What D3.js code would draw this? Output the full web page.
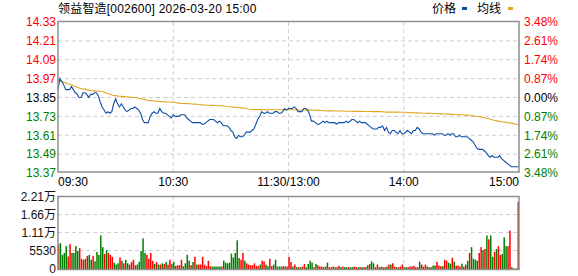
<!DOCTYPE html>
<html>
<head>
<meta charset="utf-8">
<script src="https://cdn.jsdelivr.net/npm/d3@7"></script>
<style>
  body { margin: 0; background: #fff; }
  svg { display: block; font-family: "Liberation Sans", "Noto Sans CJK SC", sans-serif; }
</style>
</head>
<body>
<script>
const title = "领益智造[002600] 2026-03-20 15:00";
const prevClose = 13.85;

const priceTicks = [14.33, 14.21, 14.09, 13.97, 13.85, 13.73, 13.61, 13.49, 13.37];
const pctLabels = ["3.48%", "2.61%", "1.74%", "0.87%", "0.00%", "0.87%", "1.74%", "2.61%", "3.48%"];
const volTicks = [0, 5530, 11060, 16590, 22120];
const volLabels = ["0", "5530", "1.11万", "1.66万", "2.21万"];
const timeTicks = [0, 60, 120, 180, 240];
const timeLabels = ["09:30", "10:30", "11:30/13:00", "14:00", "15:00"];

// one value per minute, 09:30-11:30 then 13:01-15:00
const prices = [
  13.90,13.97,13.95,13.93,13.90,13.90,13.90,13.92,13.90,13.88,
  13.87,13.85,13.85,13.88,13.88,13.87,13.85,13.87,13.87,13.88,
  13.88,13.86,13.82,13.79,13.77,13.75,13.76,13.75,13.76,13.81,
  13.84,13.81,13.79,13.81,13.79,13.77,13.76,13.77,13.78,13.78,
  13.79,13.78,13.77,13.75,13.71,13.69,13.69,13.69,13.73,13.75,
  13.76,13.75,13.75,13.78,13.76,13.75,13.75,13.74,13.73,13.72,
  13.74,
  13.73,13.73,13.73,13.74,13.74,13.74,13.72,13.71,13.70,13.69,
  13.69,13.69,13.69,13.69,13.68,13.68,13.69,13.70,13.71,13.71,
  13.71,13.70,13.69,13.70,13.69,13.67,13.67,13.67,13.66,13.64,
  13.63,13.60,13.59,13.61,13.60,13.60,13.61,13.63,13.63,13.63,
  13.64,13.65,13.68,13.71,13.73,13.76,13.75,13.75,13.76,13.75,
  13.75,13.75,13.76,13.76,13.75,13.75,13.76,13.78,13.77,13.78,
  13.78,13.78,13.79,13.78,13.76,13.76,13.76,13.78,13.78,13.77,
  13.74,13.70,13.70,13.69,13.68,13.68,13.69,13.70,13.69,13.70,
  13.69,13.69,13.69,13.69,13.68,13.69,13.69,13.69,13.69,13.70,
  13.69,13.70,13.71,13.71,13.70,13.69,13.70,13.69,13.69,13.69,
  13.68,13.67,13.66,13.65,13.65,13.65,13.66,13.66,13.67,13.64,
  13.66,13.63,13.62,13.64,13.64,13.63,13.62,13.64,13.62,13.62,
  13.63,13.64,13.63,13.62,13.64,13.64,13.66,13.65,13.63,13.62,
  13.62,13.62,13.62,13.62,13.62,13.61,13.62,13.62,13.62,13.62,
  13.61,13.61,13.62,13.61,13.62,13.62,13.60,13.60,13.61,13.60,
  13.60,13.60,13.60,13.59,13.58,13.57,13.55,13.53,13.52,13.52,
  13.52,13.51,13.50,13.48,13.47,13.48,13.47,13.47,13.47,13.48,
  13.46,13.45,13.44,13.43,13.42,13.41,13.41,13.41,13.41,13.41
];

const avgPrices = [
  13.960,13.958,13.953,13.947,13.943,13.937,13.933,13.930,13.925,13.920,
  13.915,13.911,13.907,13.903,13.903,13.900,13.897,13.894,13.893,13.892,
  13.891,13.890,13.890,13.888,13.884,13.879,13.875,13.870,13.866,13.863,
  13.862,13.860,13.858,13.857,13.856,13.855,13.854,13.853,13.852,13.851,
  13.850,13.848,13.845,13.843,13.841,13.838,13.834,13.831,13.830,13.829,
  13.828,13.827,13.826,13.825,13.824,13.823,13.822,13.821,13.821,13.820,
  13.820,
  13.818,13.815,13.814,13.813,13.812,13.812,13.811,13.810,13.810,13.809,
  13.808,13.807,13.805,13.804,13.803,13.802,13.802,13.801,13.801,13.800,
  13.800,13.799,13.798,13.798,13.797,13.796,13.794,13.793,13.791,13.790,
  13.789,13.788,13.787,13.786,13.785,13.784,13.783,13.780,13.777,13.775,
  13.774,13.774,13.773,13.773,13.773,13.773,13.772,13.772,13.772,13.772,
  13.772,13.772,13.772,13.772,13.772,13.772,13.772,13.772,13.772,13.772,
  13.772,13.772,13.772,13.771,13.771,13.771,13.771,13.771,13.771,13.770,
  13.770,13.770,13.769,13.769,13.768,13.768,13.767,13.766,13.766,13.765,
  13.765,13.765,13.765,13.764,13.764,13.764,13.764,13.764,13.763,13.763,
  13.763,13.763,13.763,13.762,13.762,13.762,13.762,13.762,13.761,13.761,
  13.761,13.761,13.761,13.760,13.760,13.760,13.760,13.760,13.759,13.758,
  13.757,13.757,13.757,13.757,13.757,13.757,13.757,13.756,13.756,13.756,
  13.756,13.755,13.755,13.754,13.753,13.752,13.752,13.751,13.751,13.750,
  13.750,13.749,13.749,13.749,13.748,13.748,13.747,13.747,13.746,13.746,
  13.745,13.745,13.744,13.744,13.743,13.742,13.742,13.741,13.740,13.740,
  13.739,13.738,13.738,13.737,13.735,13.734,13.732,13.731,13.729,13.727,
  13.724,13.721,13.718,13.716,13.712,13.708,13.705,13.703,13.700,13.698,
  13.696,13.694,13.692,13.690,13.689,13.687,13.684,13.681,13.678,13.673
];

const volumes = [
  7470,7770,4180,4780,6870,3690,7470,4780,4780,6870,
  5380,6270,2990,2690,2990,3880,4180,2690,3880,2190,
  5080,4180,10160,6570,4480,5680,4780,4180,3590,1790,
  1200,1590,3390,2390,1590,2690,1590,1200,1990,2690,
  1000,1200,2090,5380,9260,4780,4180,2990,4780,2390,
  1390,1990,1200,1200,1590,1390,1990,1200,2690,1390,
  1990,800,1000,1000,2690,700,1590,4180,2390,1000,
  1990,3590,1200,1200,1200,3590,1200,700,2390,700,
  600,600,600,600,600,600,2390,1790,1590,1790,
  4580,3390,4780,8670,3190,2690,4780,2390,1590,1200,
  1000,1000,1590,800,700,1200,2390,2190,1200,700,
  2990,700,1200,2690,600,600,600,700,700,600,
  3590,
  1990,600,1200,400,400,400,600,1390,400,1390,
  2390,1790,400,1390,1000,600,600,400,600,1790,
  400,400,600,400,400,800,400,600,400,400,
  400,400,400,600,400,400,400,400,400,400,
  1000,1390,2190,1590,400,1200,400,600,400,400,
  600,1200,1200,1590,600,400,400,600,1200,400,
  400,400,600,600,800,400,400,2090,1200,600,
  1200,600,400,400,900,900,2090,900,700,700,
  2690,2390,1790,1490,3290,2090,900,900,600,1490,
  600,1200,2390,4780,6570,2990,2690,2390,4780,6570,
  5680,5980,10160,8960,10160,3590,5080,5980,6870,4180,
  4480,9560,6870,6870,11650,400,0,0,0,20430
];

// 1 = red (up tick), 0 = green (down tick)
const volUp = [
  1,0,0,0,0,1,1,0,0,0,
  0,1,1,1,0,1,0,0,1,0,
  0,0,0,0,1,0,1,1,1,0,
  0,0,1,0,1,0,0,1,1,1,
  1,0,0,0,0,0,1,1,1,1,
  0,1,0,1,0,1,0,1,1,0,
  0,1,1,1,1,0,0,0,0,1,
  0,1,0,1,1,1,1,1,1,1,
  0,0,0,0,0,1,0,0,0,0,
  0,0,0,0,0,1,1,0,1,1,
  1,1,1,1,1,0,1,1,0,0,
  1,1,0,0,0,0,0,1,0,1,
  1,
  1,0,1,0,1,0,1,1,0,0,
  0,0,1,0,1,1,1,0,1,0,
  1,1,1,0,1,1,0,1,0,0,
  1,0,0,1,1,0,1,0,1,0,
  1,0,0,0,1,1,0,1,0,1,
  0,1,0,1,1,0,1,1,1,0,
  0,1,1,1,1,1,0,0,1,1,
  1,0,1,0,0,0,1,1,1,0,
  1,1,0,0,1,0,1,1,1,0,
  1,0,0,1,0,0,0,0,1,1,
  0,1,0,1,0,0,1,0,1,1,
  0,0,0,1,1,0,1,1,0,1
];

const W = 578, H = 276;
const left = 58, right = 519;
const priceTop = 22, priceBottom = 173;
const volTop = 196.5, volBottom = 268.5;

const red = "#ff0000", green = "#008000", frame = "#8f8f8f", grid = "#cfcfcf";

const svg = d3.select("body").append("svg")
  .attr("width", W)
  .attr("height", H);

const x = d3.scaleLinear().domain([0, 240]).range([left, right]);
const y = d3.scaleLinear().domain([13.37, 14.33]).range([priceBottom, priceTop]);
const yv = d3.scaleLinear().domain([0, 22120]).range([volBottom, volTop]);

// 标题和图例
svg.append("text")
  .attr("x", left).attr("y", 13)
  .attr("font-size", 12).attr("fill", "#000")
  .attr("letter-spacing", 0.2)
  .text(title);

const legend = svg.append("g").attr("font-size", 12).attr("fill", "#000");
legend.append("text").attr("x", 432).attr("y", 13).text("价格");
legend.append("rect").attr("x", 462).attr("y", 7).attr("width", 5).attr("height", 3).attr("fill", "#0d4ea6");
legend.append("text").attr("x", 477).attr("y", 13).text("均线");
legend.append("rect").attr("x", 508).attr("y", 7).attr("width", 5).attr("height", 3).attr("fill", "#e2a524");

function tickColor(v) {
  if (Math.abs(v - prevClose) < 1e-6) return "#000";
  return v > prevClose ? red : green;
}

// 价格区网格
svg.append("g")
  .selectAll("line")
  .data(priceTicks.slice(1, -1))
  .enter().append("line")
  .attr("x1", left).attr("x2", right)
  .attr("y1", d => y(d)).attr("y2", d => y(d))
  .attr("stroke", grid).attr("stroke-dasharray", "4,3");

svg.append("g")
  .selectAll("line")
  .data(timeTicks.slice(1, -1))
  .enter().append("line")
  .attr("x1", d => x(d)).attr("x2", d => x(d))
  .attr("y1", priceTop).attr("y2", priceBottom)
  .attr("stroke", grid).attr("stroke-dasharray", "4,3");

// 成交量区网格
svg.append("g")
  .selectAll("line")
  .data(volTicks.slice(1, -1))
  .enter().append("line")
  .attr("x1", left).attr("x2", right)
  .attr("y1", d => yv(d)).attr("y2", d => yv(d))
  .attr("stroke", grid).attr("stroke-dasharray", "4,3");

svg.append("g")
  .selectAll("line")
  .data(timeTicks.slice(1, -1))
  .enter().append("line")
  .attr("x1", d => x(d)).attr("x2", d => x(d))
  .attr("y1", volTop).attr("y2", volBottom)
  .attr("stroke", grid).attr("stroke-dasharray", "4,3");

// 左右刻度
svg.append("g")
  .selectAll("text")
  .data(priceTicks)
  .enter().append("text")
  .attr("x", left - 2).attr("y", d => y(d))
  .attr("dy", "0.36em")
  .attr("text-anchor", "end")
  .attr("font-size", 12)
  .attr("fill", d => tickColor(d))
  .text(d => d.toFixed(2));

svg.append("g")
  .selectAll("text")
  .data(priceTicks)
  .enter().append("text")
  .attr("x", right + 5).attr("y", d => y(d))
  .attr("dy", "0.36em")
  .attr("font-size", 12)
  .attr("fill", d => tickColor(d))
  .text((d, i) => pctLabels[i]);

svg.append("g")
  .selectAll("text")
  .data(volTicks)
  .enter().append("text")
  .attr("x", left - 2).attr("y", d => yv(d))
  .attr("dy", "0.36em")
  .attr("text-anchor", "end")
  .attr("font-size", 12)
  .attr("fill", "#111")
  .text((d, i) => volLabels[i]);

svg.append("g")
  .selectAll("text")
  .data(timeTicks)
  .enter().append("text")
  .attr("x", d => x(d)).attr("y", 186)
  .attr("text-anchor", (d, i) => i === 0 ? "start" : (i === timeTicks.length - 1 ? "end" : "middle"))
  .attr("font-size", 12)
  .attr("fill", "#000")
  .text((d, i) => timeLabels[i]);

// 成交量柱
svg.append("g")
  .selectAll("rect")
  .data(volumes)
  .enter().append("rect")
  .attr("x", (d, i) => Math.min(x(i) - 0.2, right - 1.5))
  .attr("y", d => yv(d))
  .attr("width", 1.5)
  .attr("height", d => volBottom - yv(d) + 0.5)
  .attr("fill", (d, i) => volUp[i] ? red : green);

// 均线和价格线
svg.append("path")
  .datum(avgPrices)
  .attr("fill", "none")
  .attr("stroke", "#e2a524")
  .attr("stroke-width", 1.1)
  .attr("d", d3.line().x((d, i) => x(i)).y(d => y(d)));

svg.append("path")
  .datum(prices)
  .attr("fill", "none")
  .attr("stroke", "#0d4ea6")
  .attr("stroke-width", 1.1)
  .attr("d", d3.line().x((d, i) => x(i)).y(d => y(d)));

// 边框
svg.append("rect")
  .attr("x", left).attr("y", priceTop - 0.5)
  .attr("width", right - left).attr("height", priceBottom - priceTop - 0.5)
  .attr("fill", "none").attr("stroke", frame).attr("stroke-width", 1.5);

svg.append("rect")
  .attr("x", left).attr("y", volTop)
  .attr("width", right - left).attr("height", volBottom - volTop + 1)
  .attr("fill", "none").attr("stroke", frame).attr("stroke-width", 1.5);
</script>
</body>
</html>
